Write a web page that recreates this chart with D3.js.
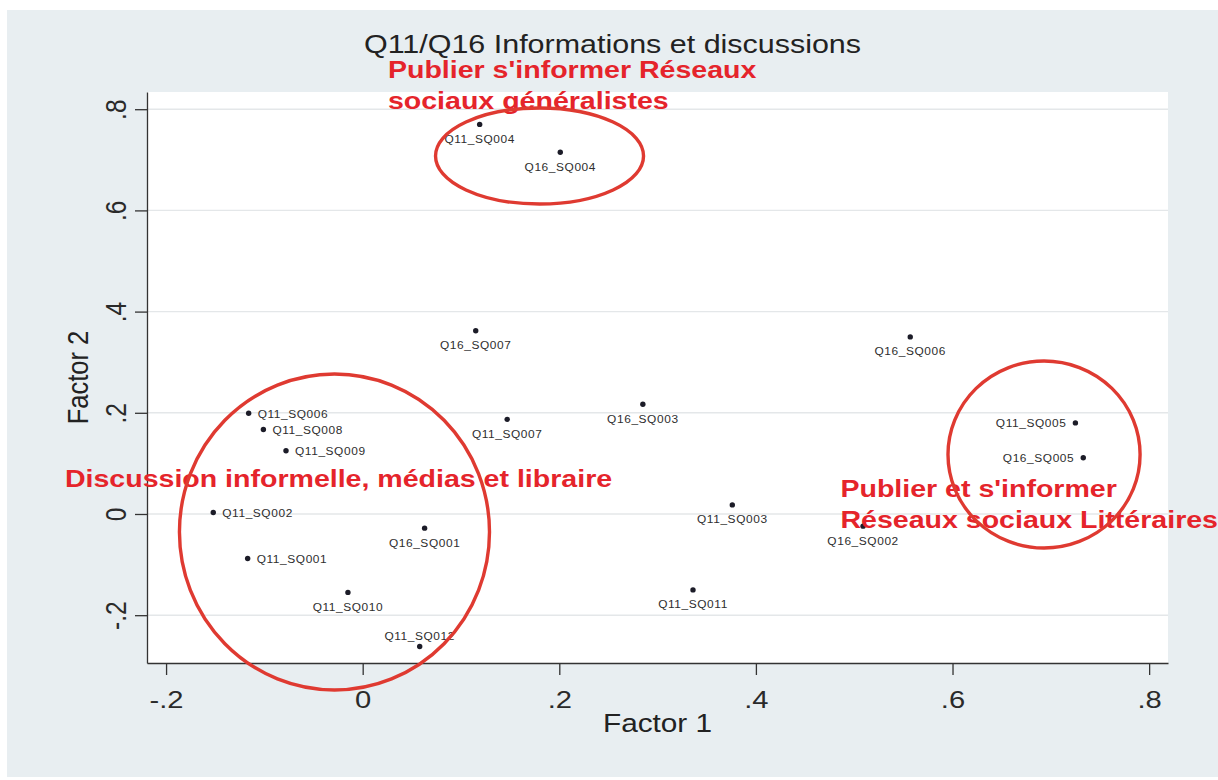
<!DOCTYPE html>
<html><head><meta charset="utf-8">
<script src="https://cdn.jsdelivr.net/npm/d3@7"></script>
<style>
body{margin:0;background:#fff;}
svg{display:block;}
text{font-family:"Liberation Sans", Arial, Helvetica, sans-serif;}
</style>
</head><body>
<svg id="chart" width="1218" height="780"></svg>
<script>
// ---------- data ----------
const pointLabels = ["Q11_SQ004","Q16_SQ004","Q16_SQ007","Q16_SQ006","Q11_SQ006","Q11_SQ008","Q11_SQ009",
  "Q11_SQ007","Q16_SQ003","Q11_SQ005","Q16_SQ005","Q11_SQ002","Q16_SQ001","Q11_SQ003","Q16_SQ002",
  "Q11_SQ001","Q11_SQ010","Q11_SQ011","Q11_SQ012"];
const factor1 = [0.119,0.201,0.115,0.557,-0.116,-0.101,-0.078,0.147,0.285,0.725,0.733,-0.152,0.063,0.376,0.509,-0.117,-0.015,0.336,0.058];
const factor2 = [0.770,0.715,0.362,0.350,0.199,0.167,0.125,0.187,0.217,0.180,0.111,0.003,-0.028,0.018,-0.024,-0.088,-0.155,-0.150,-0.262];
// marker label clock position (Stata mlabvposition)
const labelClock = [6,6,6,6,3,3,3,6,6,9,9,3,6,6,6,3,6,6,12];

const xTicks = [-0.2,0,0.2,0.4,0.6,0.8];
const xTickLabels = ["-.2","0",".2",".4",".6",".8"];
const yTicks = [-0.2,0,0.2,0.4,0.6,0.8];
const yTickLabels = ["-.2","0",".2",".4",".6",".8"];

const titleText = "Q11/Q16 Informations et discussions";
const xTitle = "Factor 1";
const yTitle = "Factor 2";

// annotations (data coordinates)
const noteTexts = ["Publier s'informer Réseaux","sociaux généralistes","Discussion informelle, médias et libraire","Publier et s'informer","Réseaux sociaux Littéraires"];
const noteX = [0.0257,0.0257,-0.3029,0.486,0.486];
const noteY = [0.8617,0.800,0.0534,0.0336,-0.0271];
const circleCx = [0.1799,-0.0287,0.6931];
const circleCy = [0.7075,-0.0356,0.1176];
const circleRx = [0.1058,0.1577,0.0977];
const circleRy = [0.0949,0.3123,0.1848];

// ---------- layout ----------
const SX = 1.19; // horizontal stretch of the source picture
const svg = d3.select("#chart");
const plot = {left:147, right:1168, top:92, bottom:663};
const x = d3.scaleLinear().domain([-0.2194,0.8192]).range([plot.left, plot.right]);
const y = d3.scaleLinear().domain([-0.2945,0.834]).range([plot.bottom, plot.top]);

svg.append("rect").attr("x",7).attr("y",10).attr("width",1211).attr("height",767).attr("fill","#e8eef1");
svg.append("rect").attr("x",plot.left).attr("y",plot.top).attr("width",plot.right-plot.left)
  .attr("height",plot.bottom-plot.top).attr("fill","#ffffff");

// grid
svg.append("g").selectAll("line").data(yTicks).join("line")
  .attr("x1",plot.left).attr("x2",plot.right)
  .attr("y1",d=>y(d)).attr("y2",d=>y(d))
  .attr("stroke","#e4e7e9").attr("stroke-width",1.4);

function stext(g, px, py, str, size, opts={}) {
  const t = g.append("text")
    .attr("transform",`translate(${px},${py}) scale(${SX},1)` + (opts.rot ? " rotate(-90)" : ""))
    .attr("font-size",size)
    .attr("text-anchor",opts.anchor||"start")
    .attr("fill",opts.fill||"#222")
    .text(str);
  if (opts.bold) t.attr("font-weight","bold");
  if (opts.ls) t.attr("letter-spacing",opts.ls);
  return t;
}

// x axis
const gx = svg.append("g").attr("transform",`translate(0,${plot.bottom})`)
  .call(d3.axisBottom(x).tickValues(xTicks).tickFormat((d,i)=>xTickLabels[i]).tickSize(12).tickSizeOuter(0).tickPadding(15.5));
gx.select(".domain").attr("stroke","#333").attr("stroke-width",1.3);
gx.selectAll(".tick line").attr("stroke","#333").attr("stroke-width",1.3);
gx.selectAll(".tick text").attr("font-size",24.5).attr("fill","#2a2a2a")
  .attr("font-family","Liberation Sans, Arial, sans-serif")
  .attr("transform",`scale(${SX},1)`);

// y axis
const gy = svg.append("g").attr("transform",`translate(${plot.left},0)`)
  .call(d3.axisLeft(y).tickValues(yTicks).tickFormat((d,i)=>yTickLabels[i]).tickSize(12).tickSizeOuter(0));
gy.select(".domain").attr("stroke","#333").attr("stroke-width",1.3);
gy.selectAll(".tick line").attr("stroke","#333").attr("stroke-width",1.3);
gy.selectAll(".tick text").attr("x",null).attr("dy",null).attr("y",null)
  .attr("font-size",24.5).attr("fill","#2a2a2a").attr("text-anchor","middle")
  .attr("font-family","Liberation Sans, Arial, sans-serif")
  .attr("transform",`translate(-21,0) scale(${SX},1) rotate(-90)`);

// titles
stext(svg, 612.5, 53, titleText, 25.6, {anchor:"middle", fill:"#222"});
stext(svg, (plot.left+plot.right)/2, 732, xTitle, 25, {anchor:"middle", fill:"#222"});
stext(svg, 88, (plot.top+plot.bottom)/2, yTitle, 25.5, {anchor:"middle", fill:"#222", rot:true});

// points
const pts = pointLabels.map((l,i)=>({label:l, f1:factor1[i], f2:factor2[i], pos:labelClock[i]}));
svg.append("g").selectAll("circle").data(pts).join("circle")
  .attr("cx",d=>x(d.f1)).attr("cy",d=>y(d.f2)).attr("r",2.7).attr("fill","#1c1c28");

const gl = svg.append("g");
pts.forEach(d=>{
  const px = x(d.f1), py = y(d.f2);
  let lx=px, ly=py, anchor="middle";
  if (d.pos===6) { ly = py+18.5; }
  else if (d.pos===12) { ly = py-7; }
  else if (d.pos===3) { lx = px+9; ly = py+4.5; anchor="start"; }
  else if (d.pos===9) { lx = px-9; ly = py+4.5; anchor="end"; }
  stext(gl, lx, ly, d.label, 10, {anchor, fill:"#2e2e2e", ls:0.5});
});

// annotations
const ga = svg.append("g");
noteTexts.forEach((s,i)=>{
  stext(ga, x(noteX[i]), y(noteY[i]), s, 24, {bold:true, fill:"#e5242b"});
});
svg.append("g").selectAll("ellipse").data(circleCx.map((c,i)=>i)).join("ellipse")
  .attr("cx",i=>x(circleCx[i])).attr("cy",i=>y(circleCy[i]))
  .attr("rx",i=>x(circleRx[i])-x(0)).attr("ry",i=>y(0)-y(circleRy[i]))
  .attr("fill","none").attr("stroke","#df3a31").attr("stroke-width",3.4);
</script>
</body></html>
